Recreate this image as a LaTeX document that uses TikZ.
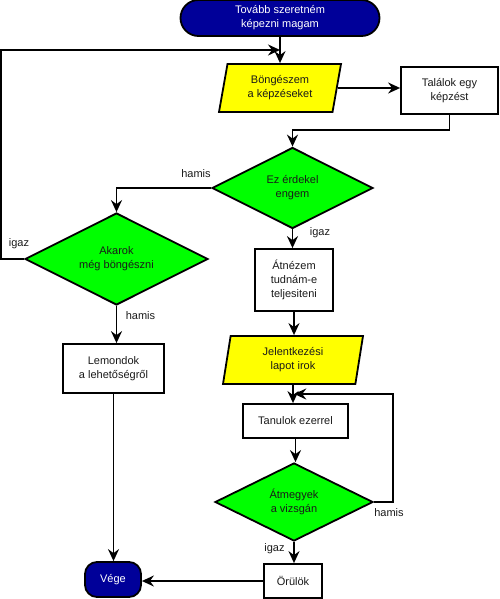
\documentclass[tikz,border=0pt]{standalone}
\usepackage{fontspec}
\setmainfont{Liberation Sans}
\usetikzlibrary{shapes.geometric,arrows.meta,calc}
\definecolor{navyb}{HTML}{000099}
\definecolor{dgreen}{HTML}{00FF00}
\definecolor{yel}{HTML}{FFFF00}
\definecolor{txt}{HTML}{1A1A1A}
\begin{document}
\begin{tikzpicture}[x=1pt,y=-1pt,
  every node/.style={font=\fontsize{11}{14}\selectfont, text=txt, align=center, inner sep=0pt},
  box/.style={draw, line width=1.8pt, fill=white, rectangle},
  term/.style={draw, line width=1.8pt, fill=navyb, text=white, rounded corners=#1},
  term/.default=18pt,
  io/.style={draw, line width=1.8pt, fill=yel, trapezium, trapezium left angle=#1, trapezium right angle=180-#1, trapezium stretches body},
  dec/.style={draw, line width=1.8pt, fill=dgreen, diamond, aspect=2},
  conn/.style={line width=1.7pt, -{Stealth[length=12pt,width=11pt,inset=4pt]}},
  lab/.style={text=txt}
]
\useasboundingbox (0,0) rectangle (500,599);

% nodes
\node[term, minimum width=199pt, minimum height=36pt] (start) at (280,18) {Tovább szeretném\\képezni magam};
\node[io=70.8, minimum width=122pt, minimum height=48pt] (brow) at (280,88) {Böngészem\\a képzéseket};
\node[box, minimum width=97pt, minimum height=47pt] (tal) at (449.5,90.5) {Találok egy\\képzést};
\node[dec, minimum width=161pt, minimum height=81pt] (ez) at (292.5,188) {Ez érdekel\\engem};
\node[dec, minimum width=183pt, minimum height=92pt] (ak) at (116.5,259) {Akarok\\még böngészni};
\node[box, minimum width=78pt, minimum height=62pt] (atn) at (294,280) {Átnézem\\tudnám-e\\teljesiteni};
\node[io=72.6, minimum width=140pt, minimum height=48pt] (jel) at (293,360) {Jelentkezési\\lapot irok};
\node[box, minimum width=101pt, minimum height=49pt] (lem) at (113.5,368.5) {Lemondok\\a lehetőségről};
\node[box, minimum width=105pt, minimum height=34pt] (tan) at (295.5,421) {Tanulok ezerrel};
\node[dec, minimum width=158pt, minimum height=78pt] (atm) at (294,502) {Átmegyek\\a vizsgán};
\node[box, minimum width=58pt, minimum height=34pt] (oru) at (293,581) {Örülök};
\node[term=12pt, minimum width=56pt, minimum height=35pt] (veg) at (113,579.5) {Vége};

% helper coordinates
\coordinate (j1) at ($(start.south)!0.5!(brow.north)$);
\coordinate (j2) at ($(jel.south)!0.5!(tan.north)$);

% connectors
\draw[conn] (start.south) -- (brow.north);
\draw[conn] (brow.east) -- (brow.east -| tal.west);
\draw[conn] (tal.south) -- ++(0,15) -| (ez.north);
\draw[conn] (ez.west) -| (ak.north);
\draw[conn] (ez.south) -- (ez.south |- atn.north);
\draw[conn] (ak.west) -- ++(-23,0) |- (j1);
\draw[conn] (ak.south) -- (ak.south |- lem.north);
\draw[conn] (lem.south) -- (lem.south |- veg.north);
\draw[conn] (atn.south) -- (atn.south |- jel.north);
\draw[conn] (jel.south) -- (jel.south |- tan.north);
\draw[conn] (tan.south) -- (tan.south |- atm.north);
\draw[conn] (atm.east) -- ++(19,0) |- (j2);
\draw[conn] (atm.south) -- (atm.south |- oru.north);
\draw[conn] (oru.west) -- (oru.west -| veg.east);

% labels
\node[lab] (l1) at (196,174) {hamis};
\node[lab] (l2) at (19,244) {igaz};
\node[lab] (l3) at (320,233) {igaz};
\node[lab] (l4) at (140.5,316) {hamis};
\node[lab] (l5) at (389,513) {hamis};
\node[lab] (l6) at (274.5,549) {igaz};
\end{tikzpicture}
\end{document}
